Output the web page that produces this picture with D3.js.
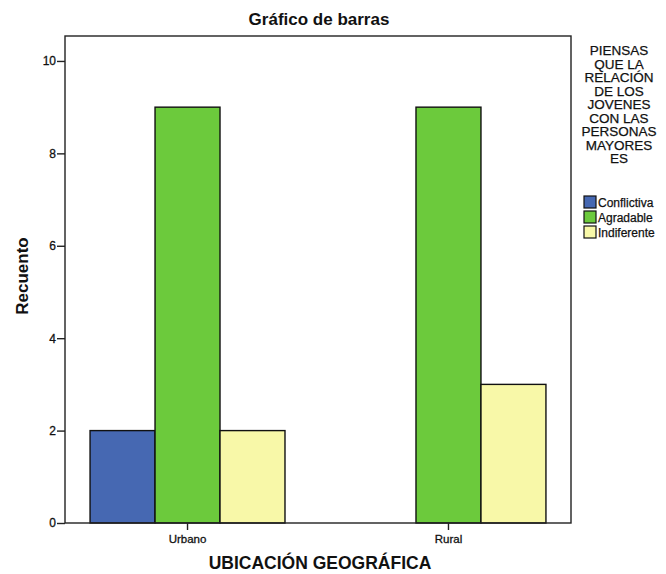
<!DOCTYPE html>
<html>
<head>
<meta charset="utf-8">
<script src="https://cdn.jsdelivr.net/npm/d3@7"></script>
<style>
  body { margin: 0; background: #fff; }
  svg { display: block; font-family: "Liberation Sans", Arial, sans-serif; }
</style>
</head>
<body>
<svg id="chart" width="666" height="574"></svg>
<script>
const categories = ["Urbano", "Rural"];
const seriesNames = ["Conflictiva", "Agradable", "Indiferente"];
const conflictiva = [2, 0];
const agradable = [9, 9];
const indiferente = [2, 3];
const yTicks = [0, 2, 4, 6, 8, 10];
const colors = ["#4668b2", "#6cca3c", "#f8f8a8"];
const legendTitle = ["PIENSAS", "QUE LA", "RELACIÓN", "DE LOS", "JOVENES", "CON LAS", "PERSONAS", "MAYORES", "ES"];

const seriesValues = [conflictiva, agradable, indiferente];
const data = [];
categories.forEach((c, i) => {
  seriesNames.forEach((s, j) => {
    data.push({ cat: c, series: s, value: seriesValues[j][i], color: colors[j] });
  });
});

const svg = d3.select("#chart");
const pLeft = 65, pRight = 571, pTop = 36, pBottom = 523;

const x0 = d3.scaleBand().domain(categories).range([pLeft, pRight])
  .paddingInner(0.253).paddingOuter(0.096);
const x1 = d3.scaleBand().domain(seriesNames).range([0, x0.bandwidth()]);
const y = d3.scaleLinear().domain([0, 10.54]).range([pBottom, pTop]);

// bars
svg.append("g").selectAll("rect").data(data.filter(d => d.value > 0)).join("rect")
  .attr("x", d => x0(d.cat) + x1(d.series))
  .attr("y", d => y(d.value))
  .attr("width", x1.bandwidth())
  .attr("height", d => y(0) - y(d.value))
  .attr("fill", d => d.color)
  .attr("stroke", "#111")
  .attr("stroke-width", 1.4);

// frame
svg.append("rect")
  .attr("x", pLeft).attr("y", pTop)
  .attr("width", pRight - pLeft).attr("height", pBottom - pTop)
  .attr("fill", "none").attr("stroke", "#222").attr("stroke-width", 1.4);

// y axis
const yAxis = d3.axisLeft(y).tickValues(yTicks).tickSize(8).tickPadding(1).tickFormat(d3.format("d"));
const gy = svg.append("g").attr("transform", `translate(${pLeft},0)`).call(yAxis);
gy.select(".domain").remove();
gy.selectAll("line").attr("stroke", "#222").attr("stroke-width", 1.4);
gy.selectAll("text").attr("font-size", 12).attr("font-family", "Liberation Sans, Arial, sans-serif")
  .attr("fill", "#111").attr("stroke", "#111").attr("stroke-width", 0.3);

// x axis
const xAxis = d3.axisBottom(x0).tickSize(7).tickPadding(5);
const gx = svg.append("g").attr("transform", `translate(0,${pBottom})`).call(xAxis);
gx.select(".domain").remove();
gx.selectAll("line").attr("stroke", "#222").attr("stroke-width", 1.4);
gx.selectAll("text").attr("font-size", 11.5).attr("font-family", "Liberation Sans, Arial, sans-serif")
  .attr("fill", "#111").attr("stroke", "#111").attr("stroke-width", 0.3);

// title
svg.append("text").attr("x", 319).attr("y", 25).attr("text-anchor", "middle")
  .attr("font-size", 17).attr("font-weight", "bold").attr("fill", "#111")
  .text("Gráfico de barras");

// axis labels
svg.append("text").attr("x", 320).attr("y", 569).attr("text-anchor", "middle")
  .attr("font-size", 17.5).attr("font-weight", "bold").attr("fill", "#111")
  .text("UBICACIÓN GEOGRÁFICA");

svg.append("text").attr("transform", "translate(28,276) rotate(-90)").attr("text-anchor", "middle")
  .attr("font-size", 17).attr("font-weight", "bold").attr("fill", "#111")
  .text("Recuento");

// legend
const lg = svg.append("g");
lg.selectAll("text.lt").data(legendTitle).join("text").attr("class", "lt")
  .attr("x", 619).attr("y", (d, i) => 55 + i * 13.5)
  .attr("text-anchor", "middle").attr("font-size", 13.5).attr("fill", "#111")
  .attr("stroke", "#111").attr("stroke-width", 0.25)
  .text(d => d);

const items = lg.selectAll("g.item").data(seriesNames).join("g").attr("class", "item")
  .attr("transform", (d, i) => `translate(584,${196 + i * 15})`);
items.append("rect").attr("width", 12).attr("height", 12)
  .attr("fill", (d, i) => colors[i]).attr("stroke", "#111").attr("stroke-width", 1.2);
items.append("text").attr("x", 14).attr("y", 10.5).attr("font-size", 12).attr("fill", "#111")
  .attr("stroke", "#111").attr("stroke-width", 0.25)
  .text(d => d);
</script>
</body>
</html>
